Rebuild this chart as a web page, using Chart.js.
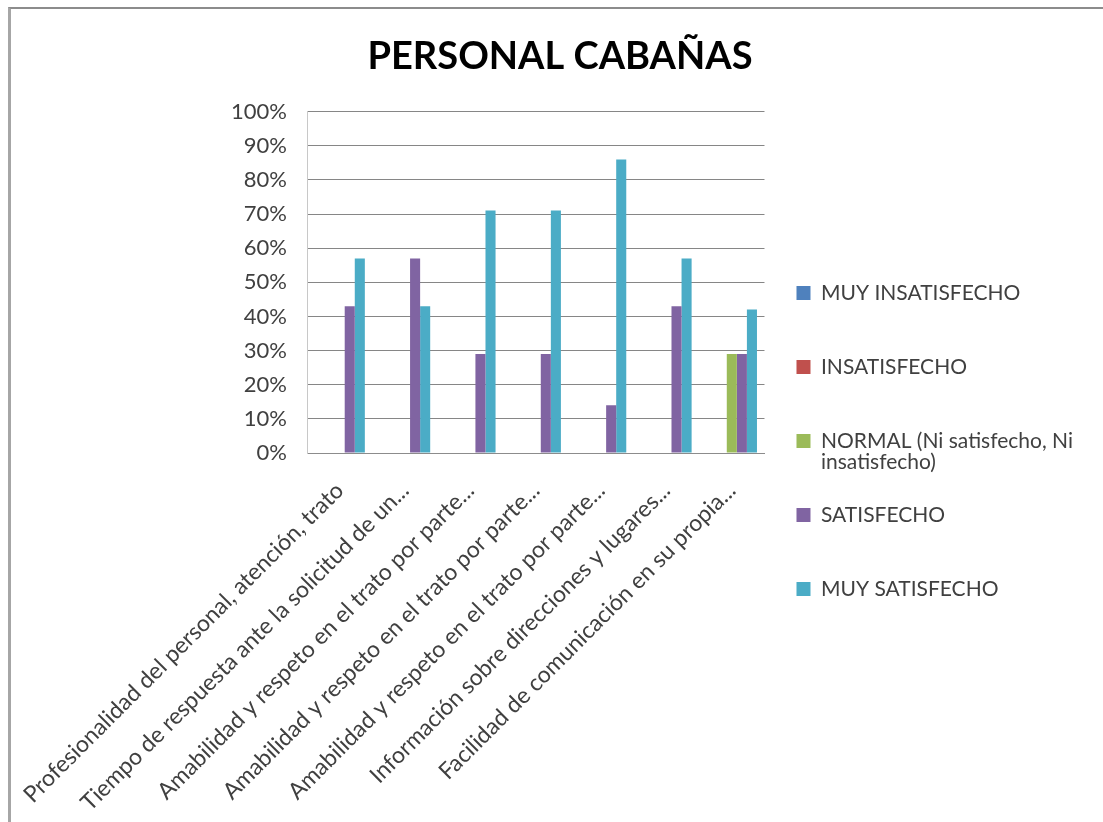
<!DOCTYPE html>
<html><head><meta charset="utf-8">
<script src="https://cdn.jsdelivr.net/npm/chart.js@4.4.1/dist/chart.umd.min.js"></script>
<style>
html,body{margin:0;padding:0;background:#fff;overflow:hidden;}
#wrap{position:absolute;left:0;top:0;width:1103px;height:822px;}
#frame{position:absolute;left:8px;top:7px;right:0;bottom:0;border-top:2px solid #8c8c8c;border-left:3px solid #a6a6a6;pointer-events:none;}
</style></head><body>
<div id="wrap"><canvas id="c"></canvas></div>
<div id="frame"></div>
<script>
const categories = [
  "Profesionalidad del personal, atención, trato",
  "Tiempo de respuesta ante la solicitud de un...",
  "Amabilidad y respeto en el trato por parte...",
  "Amabilidad y respeto en el trato por parte...",
  "Amabilidad y respeto en el trato por parte...",
  "Información sobre direcciones y lugares...",
  "Facilidad de comunicación en su propia..."
];
const seriesNames = ["MUY INSATISFECHO", "INSATISFECHO", "NORMAL (Ni satisfecho, Ni insatisfecho)", "SATISFECHO", "MUY SATISFECHO"];
const muyInsatisfecho = [0, 0, 0, 0, 0, 0, 0];
const insatisfecho = [0, 0, 0, 0, 0, 0, 0];
const normal = [0, 0, 0, 0, 0, 0, 29];
const satisfecho = [43, 57, 29, 29, 14, 43, 29];
const muySatisfecho = [57, 43, 71, 71, 86, 57, 42];
const seriesColors = ["#4F81BD", "#C0504D", "#9BBB59", "#8064A2", "#4BACC6"];
const yMin = 0, yMax = 100, yStep = 10;
const titleText = "PERSONAL CABAÑAS";

const FONT = "Lato";
const LEGEND_SIZE = 21;

function wrapLabel(text, maxW) {
  const ctx = document.createElement("canvas").getContext("2d");
  ctx.font = LEGEND_SIZE + "px " + FONT;
  const words = text.split(" ");
  const lines = [];
  let cur = "";
  for (const w of words) {
    const t = cur ? cur + " " + w : w;
    if (ctx.measureText(t).width > maxW && cur) { lines.push(cur); cur = w; } else { cur = t; }
  }
  lines.push(cur);
  while (lines.length < 2) lines.push("");
  return lines;
}

const seriesValues = [muyInsatisfecho, insatisfecho, normal, satisfecho, muySatisfecho];
const datasets = seriesNames.map((name, i) => ({
  label: name,
  data: seriesValues[i],
  backgroundColor: seriesColors[i],
  borderColor: seriesColors[i],
  borderWidth: 0,
  categoryPercentage: 0.77,
  barPercentage: 1.0
}));

Chart.defaults.font.family = FONT;
Chart.defaults.color = "#404040";

new Chart(document.getElementById("c"), {
  type: "bar",
  data: { labels: categories, datasets },
  options: {
    responsive: true,
    maintainAspectRatio: false,
    animation: false,
    layout: { padding: { left: 37, right: 20, top: 0, bottom: 0 } },
    plugins: {
      tooltip: { enabled: false },
      title: {
        display: true,
        text: titleText,
        color: "#000",
        font: { family: FONT, size: 38, weight: "bold" },
        padding: { top: 34, bottom: 32 }
      },
      legend: {
        display: true,
        position: "right",
        align: "center",
        maxWidth: 338,
        title: { display: true, text: "", font: { size: 12 }, padding: { top: 0, bottom: 66.6 } },
        labels: {
          boxWidth: 14,
          boxHeight: 14,
          padding: 32,
          color: "#404040",
          font: { family: FONT, size: LEGEND_SIZE, lineHeight: 1.0 },
          generateLabels(chart) {
            const items = Chart.defaults.plugins.legend.labels.generateLabels(chart);
            return items.map(it => { it.text = wrapLabel(seriesNames[it.datasetIndex], 275); it.lineWidth = 0; return it; });
          }
        }
      }
    },
    scales: {
      x: {
        grid: { display: false, drawTicks: false },
        border: { display: true, color: "#8c8c8c" },
        ticks: {
          autoSkip: false,
          minRotation: 45,
          maxRotation: 45,
          padding: 24,
          color: "#404040",
          font: { family: FONT, size: 23 }
        },
        afterFit(s) { s.height = 369; s.paddingLeft = 0; s.paddingRight = 0; }
      },
      y: {
        min: yMin,
        max: yMax,
        ticks: {
          stepSize: yStep,
          padding: 20,
          color: "#404040",
          font: { family: FONT, size: 22 },
          callback: v => v + "%"
        },
        grid: { color: "#868686", lineWidth: 1, drawTicks: false },
        border: { display: true, color: "#c8c8c8" },
        afterFit(s) { s.width = 270; }
      }
    }
  }
});
</script>
</body></html>
